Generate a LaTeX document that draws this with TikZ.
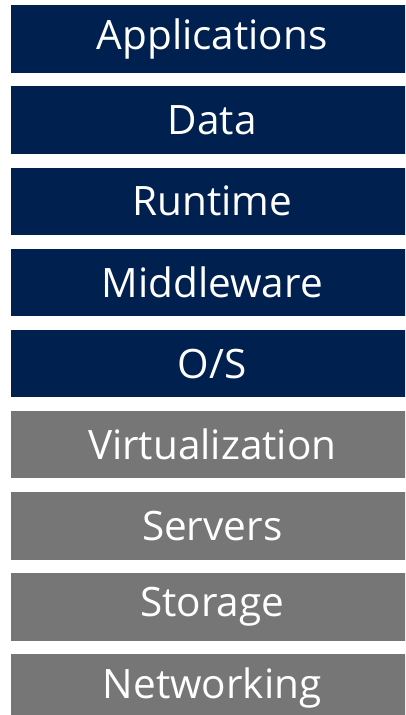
\documentclass[tikz,border=0pt]{standalone}
\usepackage{fontspec}
\setmainfont{Open Sans}
\usetikzlibrary{positioning}
\definecolor{stacknavy}{HTML}{002050}
\definecolor{stackgray}{HTML}{767676}

\begin{document}
\begin{tikzpicture}[x=1pt, y=1pt,
        layer/.style={rectangle, text=white, minimum width=402pt, minimum height=67.5pt,
            inner sep=0pt, font=\fontsize{40.5}{46}\selectfont},
        managed/.style={layer, fill=stacknavy},
        vendor/.style={layer, fill=stackgray},
        node distance=13.25pt]
        \useasboundingbox (0,0) rectangle (405,-715);
        \clip (0,0) rectangle (405,-715);
        % customer managed
        \node[managed, anchor=north west] (apps) at (11,-5) {Applications};
        \node[managed, below=of apps] (data) {Data};
        \node[managed, below=of data] (runtime) {Runtime};
        \node[managed, below=of runtime] (middleware) {Middleware};
        \node[managed, below=of middleware] (os) {O/S};
        % provider managed
        \node[vendor, below=of os] (virt) {Virtualization};
        \node[vendor, below=of virt] (servers) {Servers};
        \node[vendor, below=of servers] (storage) {Storage};
        \node[vendor, below=of storage] (network) {Networking};
    \end{tikzpicture}
\end{document}
